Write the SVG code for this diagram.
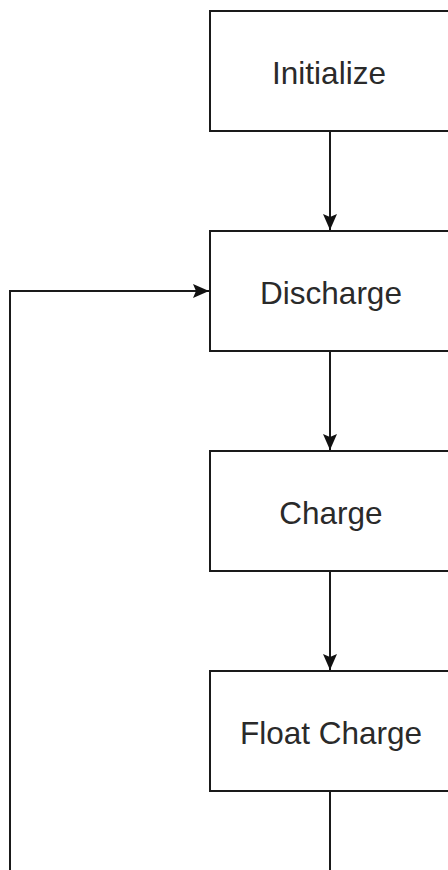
<svg xmlns="http://www.w3.org/2000/svg" width="448" height="870" viewBox="0 0 448 870">
<style>
.box{fill:#fff;stroke:#1a1a1a;stroke-width:2}
.lbl{font-family:"Liberation Sans",Arial,sans-serif;font-size:31.5px;fill:#2a2a2a;text-anchor:middle}
.edge{fill:none;stroke:#1a1a1a;stroke-width:2}
</style>
<defs>
<marker id="arr" viewBox="0 0 16 16" refX="16" refY="8" markerWidth="16" markerHeight="16" markerUnits="userSpaceOnUse" orient="auto">
<path d="M0,1 L16,8 L0,15 L3,8 Z" fill="#111"/>
</marker>
</defs>
<rect width="448" height="870" fill="#fff"/>
<g id="connectors">
<path class="edge" d="M330,131 V230" marker-end="url(#arr)"/>
<path class="edge" d="M330,351 V450" marker-end="url(#arr)"/>
<path class="edge" d="M330,571 V670" marker-end="url(#arr)"/>
<path class="edge" d="M330,791 V875 M10,875 V291 H209" marker-end="url(#arr)"/>
</g>
<g id="initialize"><rect class="box" x="210" y="11" width="250" height="120"/><text class="lbl" x="329" y="84">Initialize</text></g>
<g id="discharge"><rect class="box" x="210" y="231" width="250" height="120"/><text class="lbl" x="331" y="304">Discharge</text></g>
<g id="charge"><rect class="box" x="210" y="451" width="250" height="120"/><text class="lbl" x="331" y="524">Charge</text></g>
<g id="float-charge"><rect class="box" x="210" y="671" width="250" height="120"/><text class="lbl" x="331" y="744">Float Charge</text></g>
</svg>
